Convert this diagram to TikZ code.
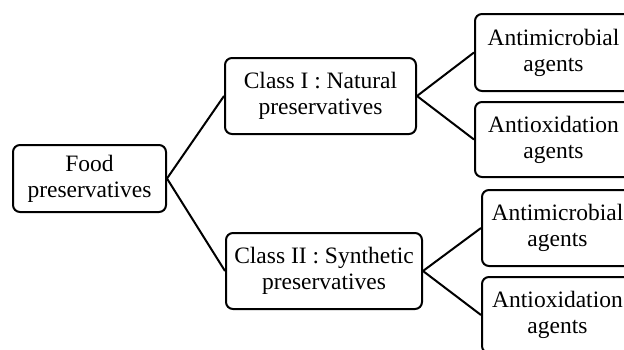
\documentclass[tikz,border=0pt]{standalone}
\usepackage{fontspec}
\setmainfont{Liberation Serif}
\begin{document}
\begin{tikzpicture}[x=1pt,y=-1pt,
  box/.style={draw,line width=2pt,rounded corners=7pt,align=center,inner sep=0pt,
    font=\fontsize{23.5}{26}\selectfont},
  link/.style={line width=2pt}]
\useasboundingbox (0,0) rectangle (624,349);
\clip (0,0) rectangle (624,349);
\node[box,minimum width=153pt,minimum height=67pt] (food) at (89.5,178.5) {Food\\preservatives};
\node[box,minimum width=191pt,minimum height=76pt] (c1) at (320.5,96) {Class I : Natural\\preservatives};
\node[box,minimum width=196pt,minimum height=76pt] (c2) at (324,271) {Class II : Synthetic\\preservatives};
\node[box,minimum width=157pt,minimum height=77pt] (am1) at (553.5,52.5) {Antimicrobial\\agents};
\node[box,minimum width=157pt,minimum height=75pt] (ao1) at (553.5,139.5) {Antioxidation\\agents};
\node[box,minimum width=151pt,minimum height=76pt] (am2) at (557.5,228) {Antimicrobial\\agents};
\node[box,minimum width=151pt,minimum height=76pt] (ao2) at (557.5,315) {Antioxidation\\agents};
\draw[link] (c1.west) -- (food.east) -- (c2.west);
\draw[link] (am1.west) -- (c1.east) -- (ao1.west);
\draw[link] (am2.west) -- (c2.east) -- (ao2.west);
\end{tikzpicture}
\end{document}
